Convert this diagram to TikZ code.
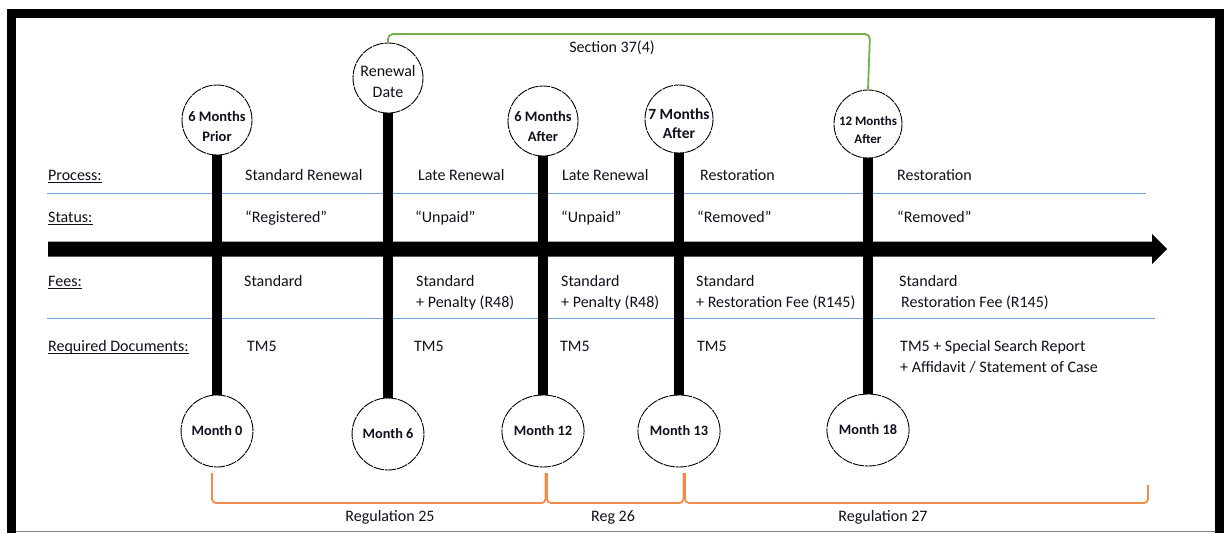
\documentclass[tikz,border=0pt]{standalone}
\usepackage{fontspec}
\setmainfont{Carlito}
\usetikzlibrary{shapes.geometric}
\definecolor{txt}{RGB}{15,15,30}
\definecolor{rowblue}{RGB}{110,160,215}
\definecolor{regorange}{RGB}{240,140,75}
\definecolor{secgreen}{RGB}{115,175,75}
\definecolor{framegray}{RGB}{130,130,130}
\newcommand\myul[1]{\setbox0\hbox{#1}\rlap{\rule[-2.6pt]{\wd0}{0.9pt}}\box0}
\begin{document}
\begin{tikzpicture}[x=1pt,y=-1pt,
  lbl/.style={anchor=base west, inner sep=0pt, font=\fontsize{16}{19}\selectfont, text=txt},
  reglbl/.style={anchor=base, inner sep=0pt, font=\fontsize{16}{19}\selectfont, text=txt},
  topc/.style={circle, draw=black, fill=white, minimum size=70pt, inner sep=0pt, line width=0.9pt, dash pattern=on 11pt off 0.9pt},
  botc/.style={ellipse, draw=black, fill=white, minimum width=69pt, minimum height=72pt, inner sep=0pt, line width=0.9pt, dash pattern=on 11pt off 0.9pt, font=\bfseries\fontsize{14.3}{17}\selectfont, text=txt},
  ctext/.style={align=center, inner sep=0pt, text=txt},
  bar/.style={line width=10pt, draw=black},
  rowline/.style={draw=rowblue, line width=1pt},
  reg/.style={draw=regorange, line width=1.8pt, rounded corners=4pt},
  sect/.style={draw=secgreen, line width=1.8pt, rounded corners=5pt}]
\useasboundingbox (0,0) rectangle (1224,533);

% frame
\draw[line width=9pt, black, line join=miter] (11.5,533) -- (11.5,13) -- (1219,13) -- (1219,533);
\draw[framegray, line width=1.5pt] (16,531.5) -- (1214.5,531.5);

% row separator lines
\draw[rowline] (47,193) -- (1146,193);
\draw[rowline] (47,318) -- (1155,318);

% timeline arrow
\fill[black] (48,241.5) -- (1152,241.5) -- (1152,234) -- (1167,249) -- (1152,264) -- (1152,256.5) -- (48,256.5) -- cycle;

% top circles
\node[topc] (t1) at (217,120) {};
\node[topc] (t2) at (388,78) {};
\node[topc] (t3) at (543,121) {};
\node[topc, minimum size=68pt] (t4) at (679,119) {};
\node[topc, minimum size=68pt] (t5) at (868,124) {};
\node[ctext, font=\bfseries\fontsize{14.5}{20}\selectfont] (t1l) at (217,126) {6 Months\\Prior};
\node[ctext, font=\fontsize{16}{21}\selectfont] (t2l) at (388,81.5) {Renewal\\Date};
\node[ctext, font=\bfseries\fontsize{14.5}{20}\selectfont] (t3l) at (543,126.5) {6 Months\\After};
\node[ctext, font=\bfseries\fontsize{15.5}{19}\selectfont] (t4l) at (679,123.5) {7 Months\\After};
\node[ctext, font=\bfseries\fontsize{13}{18}\selectfont] (t5l) at (868,129.5) {12 Months\\After};

% bottom circles
\node[botc] (b1) at (217,431) {Month 0};
\node[botc] (b2) at (388,434) {Month 6};
\node[botc] (b3) at (543,431) {Month 12};
\node[botc] (b4) at (679,431) {Month 13};
\node[botc] (b5) at (868,430) {Month 18};

% vertical bars
\draw[bar] (t1) -- (b1);
\draw[bar] (t2) -- (b2);
\draw[bar] (t3) -- (b3);
\draw[bar] (t4) -- (b4);
\draw[bar] (t5) -- (b5);

% Section 37(4)
\coordinate (gtop) at (870,34);
\draw[sect] (t2.north) |- (gtop) -- (t5.north);
\node[reglbl] (sec) at (612,52) {Section 37(4)};

% row labels
\node[lbl] (lp) at (48,180) {\myul{Process:}};
\node[lbl] (ls) at (48,222) {\myul{Status:}};
\node[lbl] (lf) at (48,286) {\myul{Fees:}};
\node[lbl] (ld) at (48,351) {\myul{Required Documents:}};

% process
\node[lbl] (p1) at (245,180) {Standard Renewal};
\node[lbl] (p2) at (418,180) {Late Renewal};
\node[lbl] (p3) at (562,180) {Late Renewal};
\node[lbl] (p4) at (700,180) {Restoration};
\node[lbl] (p5) at (897,180) {Restoration};

% status
\node[lbl] (s1) at (245,222) {“Registered”};
\node[lbl] (s2) at (415,222) {“Unpaid”};
\node[lbl] (s3) at (561,222) {“Unpaid”};
\node[lbl] (s4) at (697,222) {“Removed”};
\node[lbl] (s5) at (897,222) {“Removed”};

% fees
\node[lbl] (f1) at (244,286) {Standard};
\node[lbl] (f2) at (416,286) {Standard};
\node[lbl] (f2b) at (416,307) {+ Penalty (R48)};
\node[lbl] (f3) at (561,286) {Standard};
\node[lbl] (f3b) at (561,307) {+ Penalty (R48)};
\node[lbl] (f4) at (696,286) {Standard};
\node[lbl] (f4b) at (696,307) {+ Restoration Fee (R145)};
\node[lbl] (f5) at (899,286) {Standard};
\node[lbl] (f5b) at (901,307) {Restoration Fee (R145)};

% documents
\node[lbl] (d1) at (247,351) {TM5};
\node[lbl] (d2) at (414,351) {TM5};
\node[lbl] (d3) at (560,351) {TM5};
\node[lbl] (d4) at (697,351) {TM5};
\node[lbl] (d5) at (900,351) {TM5 + Special Search Report};
\node[lbl] (d5b) at (900,372) {+ Affidavit / Statement of Case};

% regulation brackets
\coordinate (r25a) at (212,473);
\coordinate (r25b) at (545.5,473);
\coordinate (r26a) at (547,473);
\coordinate (r26b) at (683.5,473);
\coordinate (r27a) at (685,473);
\coordinate (r27b) at (1148,485);
\draw[reg] (r25a) -- (212,503) -- (545.5,503) -- (r25b);
\draw[reg] (r26a) -- (547,503) -- (683.5,503) -- (r26b);
\draw[reg] (r27a) -- (685,503) -- (1148,503) -- (r27b);
\node[reglbl] (g25) at (390,521) {Regulation 25};
\node[reglbl] (g26) at (613,521) {Reg 26};
\node[reglbl] (g27) at (883,521) {Regulation 27};
\end{tikzpicture}
\end{document}
